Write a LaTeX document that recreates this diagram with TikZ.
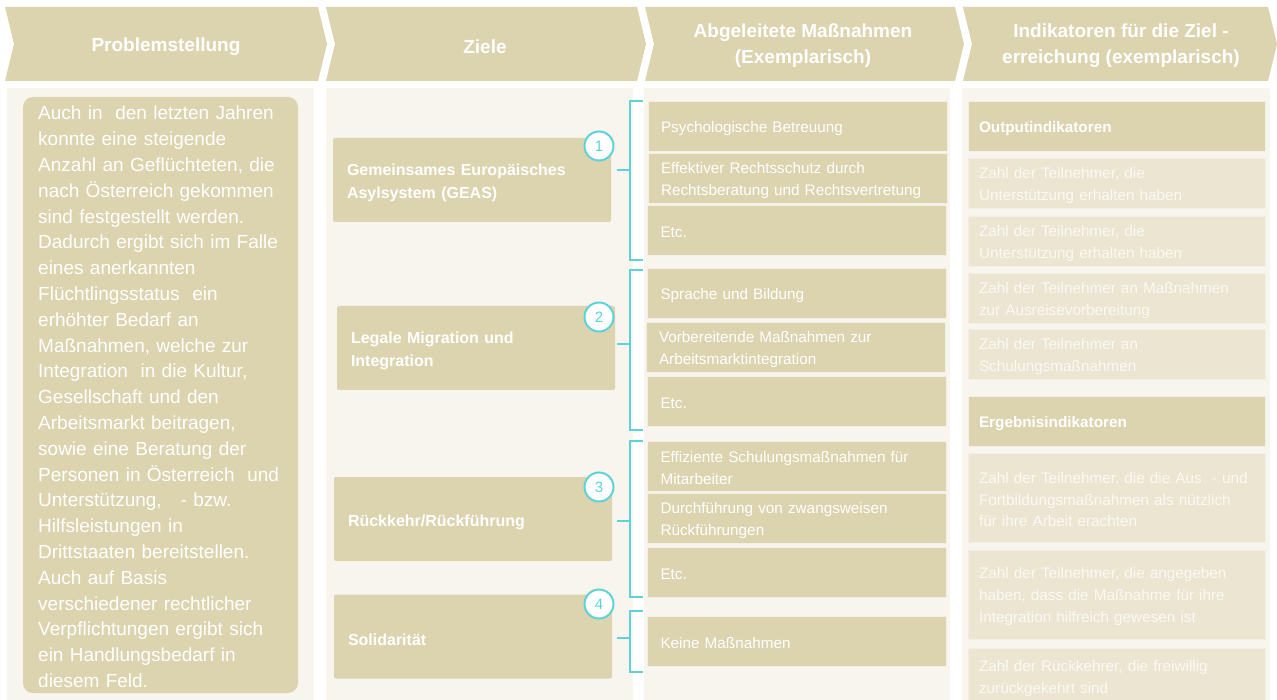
\documentclass[tikz,border=0pt]{standalone}
\usepackage{fontspec}
\setmainfont{Liberation Sans}
\definecolor{tanc}{HTML}{DCD3AF}
\definecolor{panelc}{HTML}{F8F5EE}
\definecolor{lightc}{HTML}{EBE5D1}
\definecolor{edgec}{HTML}{F3EFE3}
\definecolor{faintc}{HTML}{FBF9F3}
\definecolor{brteal}{HTML}{5DD3D8}
\begin{document}
\begin{tikzpicture}[x=1pt,y=-1pt,
  chev/.style={fill=tanc},
  htext/.style={text=white,font=\fontsize{19}{26}\selectfont\bfseries,align=center,inner sep=0pt},
  panelbg/.style={fill=panelc},
  goal/.style={fill=tanc,rounded corners=2pt,text=white,font=\fontsize{16}{23}\selectfont\bfseries,align=left,text width=250pt,inner xsep=14pt,inner ysep=0pt,minimum height=84pt,execute at begin node={\rule{0pt}{18pt}}},
  mbox/.style={fill=tanc,draw=edgec,line width=0.8pt,text=white,font=\fontsize{15.3}{22}\selectfont,align=left,text width=273pt,inner xsep=13pt,inner ysep=0pt,minimum height=50pt,execute at begin node={\rule{0pt}{15.5pt}}},
  ibox/.style={fill=lightc,draw=edgec,line width=0.8pt,text=faintc,font=\fontsize{15.3}{21.7}\selectfont,align=left,text width=275pt,inner xsep=11pt,inner ysep=0pt,minimum height=50pt,execute at begin node={\rule{0pt}{15.5pt}}},
  ihead/.style={ibox,fill=tanc,text=white,font=\fontsize{15.3}{21.7}\selectfont\bfseries},
  num/.style={circle,draw=brteal,line width=2pt,fill=white,text=brteal,minimum size=29pt,inner sep=0pt,font=\fontsize{15}{15}\selectfont},
  br/.style={draw=brteal,line width=1.8pt},
  pbox/.style={fill=tanc,rounded corners=10pt,minimum width=275pt,minimum height=596pt,inner sep=0pt},
  ptext/.style={text=white,font=\fontsize{19}{25.8}\selectfont,align=left,text width=270pt,inner sep=0pt}
]
\useasboundingbox (0,0) rectangle (1277,700);
\fill[white] (0,0) rectangle (1277,700);

% header chevrons
\fill[chev] (5,7) -- (318,7) -- (327,44) -- (318,81) -- (5,81) -- (14,44) -- cycle;
\fill[chev] (326,7) -- (637,7) -- (646,44) -- (637,81) -- (326,81) -- (335,44) -- cycle;
\fill[chev] (645,7) -- (955,7) -- (964,44) -- (955,81) -- (645,81) -- (654,44) -- cycle;
\fill[chev] (963,7) -- (1268,7) -- (1277,44) -- (1268,81) -- (963,81) -- (972,44) -- cycle;
\node[htext] (h1) at (166,47) {Problemstellung};
\node[htext] (h2) at (485,47) {Ziele};
\node[htext] (h3) at (803,46) {Abgeleitete Maßnahmen\\(Exemplarisch)};
\node[htext] (h4) at (1121,46) {Indikatoren für die Ziel -\\erreichung (exemplarisch)};

% panels
\fill[panelbg] (7,88) rectangle (314,700);
\fill[panelbg] (326,88) rectangle (633,700);
\fill[panelbg] (644,88) rectangle (950,700);
\fill[panelbg] (962,88) rectangle (1270,700);

% Problemstellung
\node[pbox] (pb) at (160.5,395) {};
\node[ptext,anchor=north west] (pt) at (38,106) {Auch in\ \ den letzten Jahren\\
konnte eine steigende\\
Anzahl an Geflüchteten, die\\
nach Österreich gekommen\\
sind festgestellt werden.\\
Dadurch ergibt sich im Falle\\
eines anerkannten\\
Flüchtlingsstatus\ \ ein\\
erhöhter Bedarf an\\
Maßnahmen, welche zur\\
Integration\ \ in die Kultur,\\
Gesellschaft und den\\
Arbeitsmarkt beitragen,\\
sowie eine Beratung der\\
Personen in Österreich\ \ und\\
Unterstützung,\ \ \ - bzw.\\
Hilfsleistungen in\\
Drittstaaten bereitstellen.\\
Auch auf Basis\\
verschiedener rechtlicher\\
Verpflichtungen ergibt sich\\
ein Handlungsbedarf in\\
diesem Feld.};

% Ziele
\node[goal] (g1) at (472,180) {Gemeinsames Europäisches\\Asylsystem (GEAS)};
\node[goal] (g2) at (476,348) {Legale Migration und\\Integration};
\node[goal] (g3) at (473,519) {Rückkehr/Rückführung};
\node[goal] (g4) at (473,636.5) {Solidarität};
\node[num] (n1) at (599,146) {1};
\node[num] (n2) at (599,317) {2};
\node[num] (n3) at (599,487) {3};
\node[num] (n4) at (599,604) {4};

% brackets
\draw[br] (643,101) -- (630,101) -- (630,260) -- (643,260);
\draw[br] (643,270) -- (630,270) -- (630,430) -- (643,430);
\draw[br] (643,441) -- (630,441) -- (630,597) -- (643,597);
\draw[br] (643,611) -- (630,611) -- (630,672) -- (643,672);
\coordinate (k1) at (630,170);
\coordinate (k2) at (630,344);
\coordinate (k3) at (630,521);
\coordinate (k4) at (630,638);
\draw[br] (g1.east |- k1) ++(6,0) -- (k1);
\draw[br] (g2.east |- k2) ++(2,0) -- (k2);
\draw[br] (g3.east |- k3) ++(5,0) -- (k3);
\draw[br] (g4.east |- k4) ++(5,0) -- (k4);

% Massnahmen
\node[mbox] (m1) at (797.5,126) {Psychologische Betreuung};
\node[mbox] (m2) at (797.5,178.5) {Effektiver Rechtsschutz durch\\Rechtsberatung und Rechtsvertretung};
\node[mbox] (m3) at (797,230) {Etc.};
\node[mbox] (m4) at (797,293) {Sprache und Bildung};
\node[mbox] (m5) at (795.5,347) {Vorbereitende Maßnahmen zur\\Arbeitsmarktintegration};
\node[mbox] (m6) at (797,401) {Etc.};
\node[mbox] (m7) at (797,466) {Effiziente Schulungsmaßnahmen für\\Mitarbeiter};
\node[mbox] (m8) at (797,518.5) {Durchführung von zwangsweisen\\Rückführungen};
\node[mbox] (m9) at (797,572) {Etc.};
\node[mbox] (m10) at (797,641) {Keine Maßnahmen};

% Indikatoren
\node[ihead] (i0) at (1116.5,126) {Outputindikatoren};
\node[ibox] (i1) at (1116.5,183.5) {Zahl der Teilnehmer, die\\Unterstützung erhalten haben};
\node[ibox] (i2) at (1116.5,241) {Zahl der Teilnehmer, die\\Unterstützung erhalten haben};
\node[ibox] (i3) at (1116.5,298) {Zahl der Teilnehmer an Maßnahmen\\zur Ausreisevorbereitung};
\node[ibox] (i4) at (1116.5,354.5) {Zahl der Teilnehmer an\\Schulungsmaßnahmen};
\node[ihead] (e0) at (1116.5,421) {Ergebnisindikatoren};
\node[ibox,minimum height=89pt] (e1) at (1116.5,497.5) {Zahl der Teilnehmer, die die Aus\ \ - und\\Fortbildungsmaßnahmen als nützlich\\für ihre Arbeit erachten};
\node[ibox,minimum height=89pt] (e2) at (1116.5,594.5) {Zahl der Teilnehmer, die angegeben\\haben, dass die Maßnahme für ihre\\Integration hilfreich gewesen ist};
\node[ibox,minimum height=56pt] (e3) at (1116.5,676) {Zahl der Rückkehrer, die freiwillig\\zurückgekehrt sind};
\end{tikzpicture}
\end{document}
